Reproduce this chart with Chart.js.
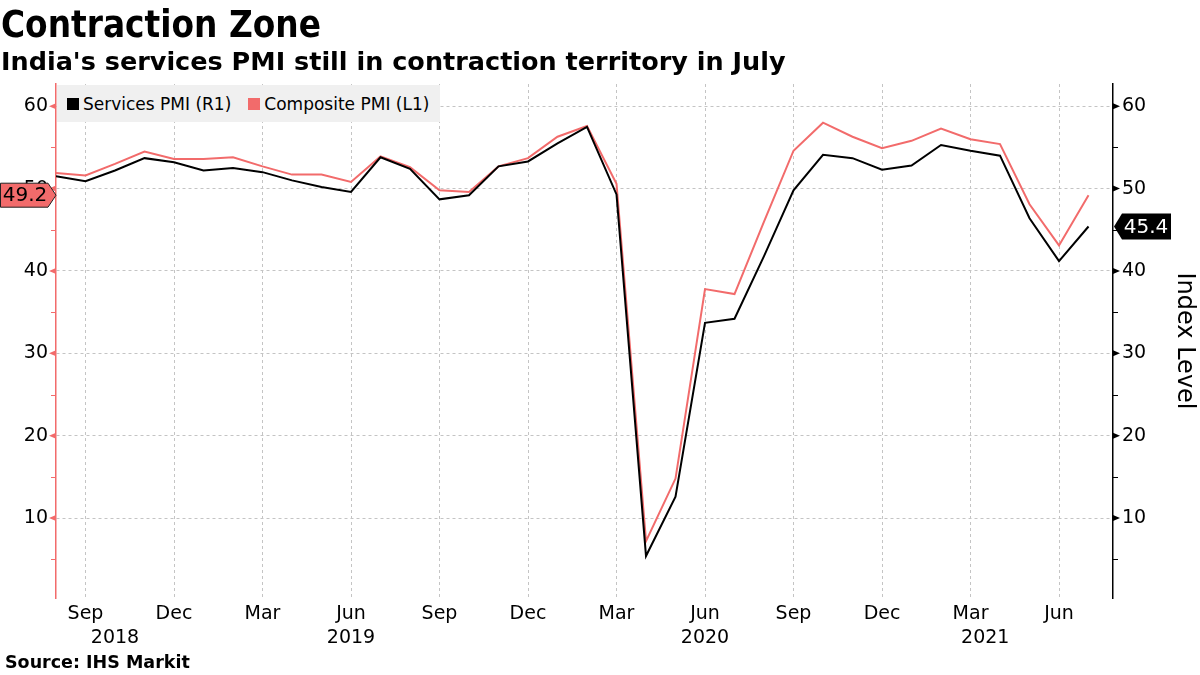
<!DOCTYPE html>
<html><head><meta charset="utf-8">
<script src="https://cdn.jsdelivr.net/npm/chart.js@4.4.1/dist/chart.umd.min.js"></script>
<style>
html,body{margin:0;padding:0;background:#fff;}
#wrap{position:relative;width:1200px;height:675px;overflow:hidden;font-family:"DejaVu Sans",sans-serif;}
#chart{position:absolute;left:0;top:0;}
#title{position:absolute;left:1px;top:3px;font:bold 36.5px "DejaVu Sans Condensed","DejaVu Sans",sans-serif;color:#000;white-space:nowrap;}
#subtitle{position:absolute;left:1px;top:46px;font:bold 25.5px "DejaVu Sans",sans-serif;color:#000;white-space:nowrap;}
#source{position:absolute;left:5px;top:652px;font:bold 17.5px "DejaVu Sans",sans-serif;color:#000;white-space:nowrap;}
#legend{position:absolute;left:57px;top:85px;width:383px;height:37px;background:#f0f0f0;font:17px "DejaVu Sans",sans-serif;color:#000;display:flex;align-items:center;white-space:nowrap;}
.sw{display:inline-block;width:12px;height:12px;margin-right:4px;}
.item{display:flex;align-items:center;}
</style>
</head><body>
<div id="wrap">
<canvas id="chart" width="1200" height="675"></canvas>
<div id="title">Contraction Zone</div>
<div id="subtitle">India's services PMI still in contraction territory in July</div>
<div id="legend">
  <div class="item" style="margin-left:10px"><span class="sw" style="background:#000"></span>Services PMI (R1)</div>
  <div class="item" style="margin-left:17px"><span class="sw" style="background:#f26b6b"></span>Composite PMI (L1)</div>
</div>
<div id="source">Source: IHS Markit</div>
</div>
<script>
// ---- data ----
const categories = [
 "2018-08","2018-09","2018-10","2018-11","2018-12",
 "2019-01","2019-02","2019-03","2019-04","2019-05","2019-06","2019-07","2019-08","2019-09","2019-10","2019-11","2019-12",
 "2020-01","2020-02","2020-03","2020-04","2020-05","2020-06","2020-07","2020-08","2020-09","2020-10","2020-11","2020-12",
 "2021-01","2021-02","2021-03","2021-04","2021-05","2021-06","2021-07"
];
const servicesPMI = [
 51.5,50.9,52.2,53.7,53.2,
 52.2,52.5,52.0,51.0,50.2,49.6,53.8,52.4,48.7,49.2,52.7,53.3,
 55.5,57.5,49.3,5.4,12.6,33.7,34.2,41.8,49.8,54.1,53.7,52.3,
 52.8,55.3,54.6,54.0,46.4,41.2,45.4
];
const compositePMI = [
 51.9,51.6,53.0,54.5,53.6,
 53.6,53.8,52.7,51.7,51.7,50.8,53.9,52.6,49.8,49.6,52.7,53.7,
 56.3,57.6,50.6,7.2,14.8,37.8,37.2,46.0,54.6,58.0,56.3,54.9,
 55.8,57.3,56.0,55.4,48.1,43.1,49.2
];
const yTickValues = [10,20,30,40,50,60];
const yMinorValues = [5,15,25,35,45,55];
const quarterMonths = ["03","06","09","12"];
const monthNames = {"01":"Jan","02":"Feb","03":"Mar","04":"Apr","05":"May","06":"Jun","07":"Jul","08":"Aug","09":"Sep","10":"Oct","11":"Nov","12":"Dec"};

const RED = "#f26b6b";
const TICK_FONT = {family:"DejaVu Sans", size:19};

const toXY = arr => arr.map((v,i)=>({x:i,y:v}));

const decorPlugin = {
  id:'decor',
  afterDraw(chart){
    const ctx = chart.ctx;
    const yL = chart.scales.yL, yR = chart.scales.yR, x = chart.scales.x;
    ctx.save();
    // major tick triangles & minor ticks
    yTickValues.forEach(v=>{
      let y = yL.getPixelForValue(v);
      ctx.fillStyle = RED;
      ctx.beginPath(); ctx.moveTo(56,y-3); ctx.lineTo(56,y+3); ctx.lineTo(49,y); ctx.closePath(); ctx.fill();
      y = yR.getPixelForValue(v);
      ctx.fillStyle = "#000";
      ctx.beginPath(); ctx.moveTo(1113,y-3); ctx.lineTo(1113,y+3); ctx.lineTo(1120,y); ctx.closePath(); ctx.fill();
    });
    ctx.lineWidth = 1;
    yMinorValues.forEach(v=>{
      let y = Math.round(yL.getPixelForValue(v))+0.5;
      ctx.strokeStyle = RED;
      ctx.beginPath(); ctx.moveTo(51,y); ctx.lineTo(56,y); ctx.stroke();
      y = Math.round(yR.getPixelForValue(v))+0.5;
      ctx.strokeStyle = "#000";
      ctx.beginPath(); ctx.moveTo(1113,y); ctx.lineTo(1118,y); ctx.stroke();
    });
    // year labels
    ctx.fillStyle = "#000";
    ctx.font = "19px 'DejaVu Sans'";
    ctx.textAlign = "center"; ctx.textBaseline = "middle";
    const years = [...new Set(categories.map(c=>c.slice(0,4)))];
    years.forEach(yr=>{
      const idx = categories.map((c,i)=>c.startsWith(yr)?i:-1).filter(i=>i>=0);
      const s = Math.max(idx[0]-1, x.min);
      const e = Math.min(idx[idx.length-1], x.max);
      ctx.fillText(yr, x.getPixelForValue((s+e)/2), 638);
    });
    // last value labels
    const lc = compositePMI[compositePMI.length-1];
    let y = yL.getPixelForValue(lc);
    ctx.fillStyle = RED; ctx.strokeStyle = "#222"; ctx.lineWidth = 1;
    ctx.beginPath(); ctx.moveTo(0.5,y-12); ctx.lineTo(48,y-12); ctx.lineTo(56,y); ctx.lineTo(48,y+12); ctx.lineTo(0.5,y+12); ctx.closePath(); ctx.fill(); ctx.stroke();
    ctx.fillStyle = "#000"; ctx.font = "20px 'DejaVu Sans'"; ctx.textAlign="center";
    ctx.fillText(lc.toFixed(1), 25, y+1);
    const ls = servicesPMI[servicesPMI.length-1];
    y = yR.getPixelForValue(ls);
    ctx.fillStyle = "#000";
    ctx.beginPath(); ctx.moveTo(1114,y); ctx.lineTo(1122,y-13); ctx.lineTo(1171,y-13); ctx.lineTo(1171,y+13); ctx.lineTo(1122,y+13); ctx.closePath(); ctx.fill();
    ctx.fillStyle = "#fff";
    ctx.fillText(ls.toFixed(1), 1146, y+1);
    ctx.restore();
  }
};

new Chart(document.getElementById('chart'), {
  type:'line',
  data:{
    datasets:[
      {label:'Services PMI (R1)', data:toXY(servicesPMI), yAxisID:'yR', borderColor:'#000', borderWidth:2, pointRadius:0, tension:0, order:1},
      {label:'Composite PMI (L1)', data:toXY(compositePMI), yAxisID:'yL', borderColor:RED, borderWidth:2, pointRadius:0, tension:0, order:2}
    ]
  },
  options:{
    responsive:false, animation:false, events:[],
    layout:{padding:{top:84,left:0,right:0,bottom:0}},
    plugins:{legend:{display:false}, tooltip:{enabled:false}},
    scales:{
      x:{
        type:'linear', min:0, max:categories.length-1+0.83,
        afterBuildTicks(s){ s.ticks = categories.map((c,i)=>quarterMonths.includes(c.slice(5))?{value:i}:null).filter(Boolean); },
        afterFit(s){ s.height = 77; },
        ticks:{ callback:(v)=>monthNames[categories[v].slice(5)], font:TICK_FONT, color:'#000', padding:5, maxRotation:0, autoSkip:false },
        grid:{ color:'#c4c4c4', lineWidth:1, drawTicks:false },
        border:{ display:false, dash:[3,3] }
      },
      yL:{
        type:'linear', position:'left', min:0.3, max:62.7,
        afterBuildTicks(s){ s.ticks = yTickValues.map(v=>({value:v})); },
        afterFit(s){ s.width = 56; },
        ticks:{ font:TICK_FONT, color:'#000', padding:8 },
        grid:{ color:'#c4c4c4', lineWidth:1, drawTicks:false },
        border:{ display:true, color:RED, width:1.5, dash:[3,3] }
      },
      yR:{
        type:'linear', position:'right', min:0.3, max:62.7,
        afterBuildTicks(s){ s.ticks = yTickValues.map(v=>({value:v})); },
        afterFit(s){ s.width = 87; },
        ticks:{ font:TICK_FONT, color:'#000', padding:9 },
        grid:{ display:false, drawTicks:false },
        border:{ display:true, color:'#000', width:1.5 },
        title:{ display:true, text:'Index Level', font:{family:'DejaVu Sans', size:24}, color:'#000', padding:{top:1,bottom:1} }
      }
    }
  },
  plugins:[decorPlugin]
});
</script>
</body></html>
